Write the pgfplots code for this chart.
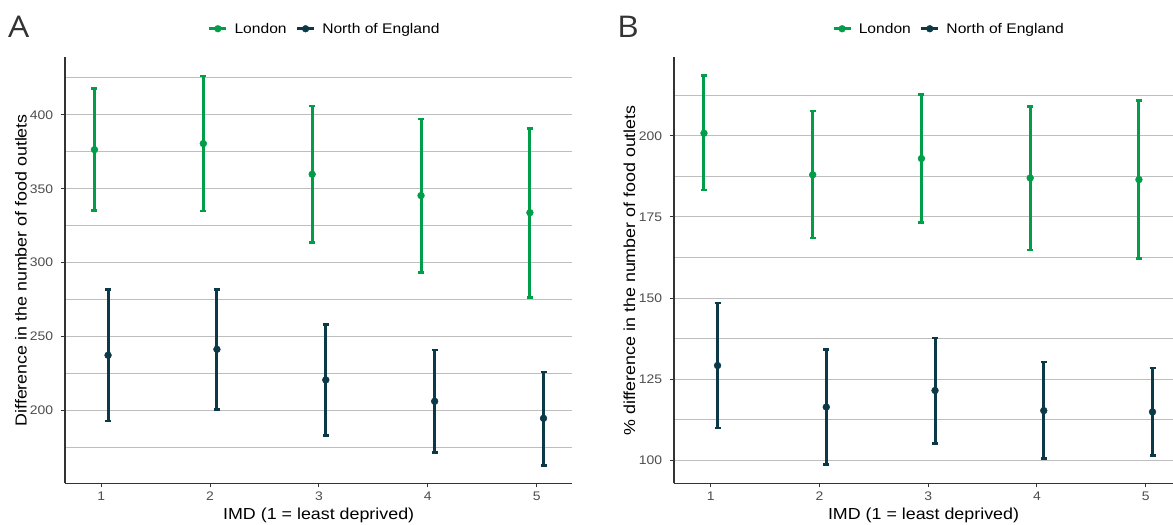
\documentclass[border=0pt]{standalone}
\usepackage{pgfplots}
\pgfplotsset{compat=1.18}
\usepackage{pgfplotstable}
\usepackage{fontspec}
\setmainfont{Liberation Sans}[FakeStretch=1.12]
\newfontfamily\panelfont{Open Sans}[FakeStretch=1.12]

\definecolor{lon}{RGB}{0,158,73}
\definecolor{nor}{RGB}{12,57,72}
\definecolor{gridc}{RGB}{190,190,190}
\definecolor{axc}{RGB}{51,51,51}
\definecolor{tickc}{RGB}{77,77,77}

% x is dodged by 0.0625 either side of the IMD quintile
\pgfplotstableread{
x      y     ep   em
0.9375 376.5 41.3 41.1
1.9375 380.6 45.8 45.6
2.9375 359.8 46.2 46.0
3.9375 345.4 51.8 51.9
4.9375 333.8 57.1 57.3
}\lonA
\pgfplotstableread{
x      y     ep   em
1.0625 237.3 44.6 44.5
2.0625 241.3 40.6 40.6
3.0625 220.6 37.4 37.7
4.0625 206.1 34.8 34.7
5.0625 194.6 31.4 31.8
}\norA
\pgfplotstableread{
x      y     ep   em
0.9375 200.8 17.7 17.5
1.9375 188.0 19.7 19.5
2.9375 193.0 19.8 19.7
3.9375 187.0 22.0 22.2
4.9375 186.5 24.3 24.4
}\lonB
\pgfplotstableread{
x      y     ep   em
1.0625 129.2 19.3 19.3
2.0625 116.4 17.8 17.7
3.0625 121.5 16.2 16.4
4.0625 115.3 15.0 14.8
5.0625 114.9 13.5 13.5
}\norB

\pgfplotsset{
  panel/.style={
    scale only axis, height=426bp,
    axis x line*=bottom, axis y line*=left,
    axis line style={axc, line width=1.1bp, -},
    xtick={1,2,3,4,5},
    tick align=outside, major tick length=4bp, minor tick length=0pt,
    tick style={axc, line width=1bp},
    ymajorgrids, yminorgrids,
    grid style={gridc, line width=1bp},
    minor grid style={gridc, line width=1bp},
    ticklabel style={font=\fontsize{12.5}{14}\selectfont, text=tickc, inner sep=0pt},
    xticklabel style={anchor=north, yshift=-4.5bp},
    yticklabel style={anchor=east, xshift=-7.7bp},
    /pgf/number format/assume math mode=true,
    label style={font=\fontsize{16}{19}\selectfont},
    xlabel={IMD (1 = least deprived)},
    x label style={at={(axis description cs:0.5,-0.0838)}, anchor=base},
    legend columns=2,
    legend cell align=left,
    legend style={draw=none, fill=none, font=\fontsize{14}{17}\selectfont,
      /tikz/every even column/.append style={column sep=7bp}},
  },
  ebar/.style={only marks, mark=*, mark size=3.4bp, color=#1,
    mark options={draw=#1, fill=#1, line width=0.5bp},
    legend image code/.code={
      \draw[#1, line width=2.8bp] (0bp,0bp) -- (17bp,0bp);
      \fill[#1] (8.5bp,0bp) circle (3.4bp);
      \path (23bp,0bp);},
    error bars/.cd, y dir=both, y explicit,
    error bar style={line width=3bp, #1},
    error mark options={rotate=90, mark size=3bp, line width=2.6bp, #1}},
}

\begin{document}
\begin{tikzpicture}
\useasboundingbox (0,0) rectangle (1173bp,525bp);

\begin{axis}[panel,
  at={(65bp,41.7bp)}, anchor=south west, width=507.3bp,
  xmin=0.667, xmax=5.327, ymin=150.6, ymax=439,
  ytick={200,250,300,350,400},
  minor ytick={175,225,275,325,375,425},
  ylabel={Difference in the number of food outlets},
  y label style={at={(axis description cs:-0.0867,0.5)}, anchor=center},
  legend style={at={(0.512,1.067)}, anchor=center},
]
\addplot[ebar=lon] table[x=x, y=y, y error plus=ep, y error minus=em] {\lonA};
\addlegendentry{London}
\addplot[ebar=nor] table[x=x, y=y, y error plus=ep, y error minus=em] {\norA};
\addlegendentry{North of England}
\end{axis}

\begin{axis}[panel,
  at={(674bp,41.7bp)}, anchor=south west, width=499bp,
  xmin=0.662, xmax=5.251, ymin=92.9, ymax=224.2,
  ytick={100,125,150,175,200},
  minor ytick={112.5,137.5,162.5,187.5,212.5},
  ylabel={\% difference in the number of food outlets},
  y label style={at={(axis description cs:-0.0892,0.5)}, anchor=center},
  legend style={at={(0.551,1.067)}, anchor=center},
]
\addplot[ebar=lon] table[x=x, y=y, y error plus=ep, y error minus=em] {\lonB};
\addlegendentry{London}
\addplot[ebar=nor] table[x=x, y=y, y error plus=ep, y error minus=em] {\norB};
\addlegendentry{North of England}
\end{axis}

\node[anchor=base west, inner sep=0pt, text=axc] at (8bp,487bp)
  {\panelfont\fontsize{30}{30}\selectfont A};
\node[anchor=base west, inner sep=0pt, text=axc] at (617bp,487bp)
  {\panelfont\fontsize{30}{30}\selectfont B};
\end{tikzpicture}
\end{document}
